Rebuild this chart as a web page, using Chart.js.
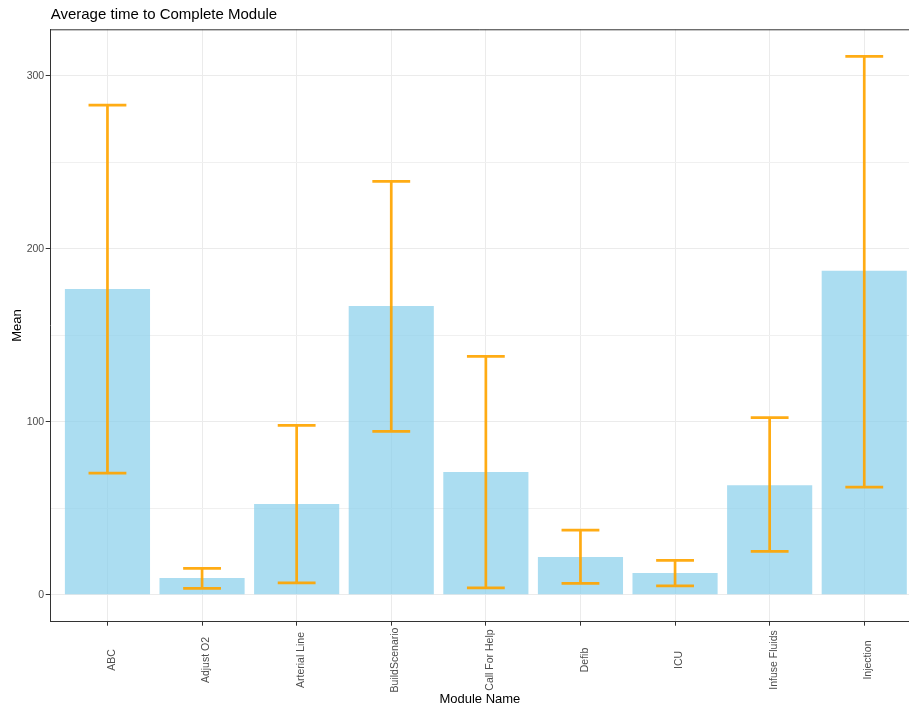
<!DOCTYPE html>
<html>
<head>
<meta charset="utf-8">
<script src="https://cdn.jsdelivr.net/npm/chart.js@4/dist/chart.umd.min.js"></script>
<style>
  html, body { margin: 0; padding: 0; background: #fff; }
  #wrap { width: 909px; height: 708px; }
</style>
</head>
<body>
<div id="wrap"><canvas id="chart" width="909" height="708"></canvas></div>
<script>
// module names and summary values
const modules = ['ABC', 'Adjust O2', 'Arterial Line', 'BuildScenario', 'Call For Help',
                 'Defib', 'ICU', 'Infuse Fluids', 'Injection'];
const meanTime = [176.8, 9.7, 52.5, 167.0, 71.0, 21.8, 12.6, 63.4, 187.4];
const upperTime = [283.2, 15.3, 98.0, 239.1, 137.9, 37.4, 19.9, 102.4, 311.4];
const lowerTime = [70.4, 3.7, 6.9, 94.5, 4.0, 6.6, 5.2, 25.1, 62.3];
const yTicks = [0, 100, 200, 300];

Chart.defaults.font.family = "'Liberation Sans', Arial, sans-serif";

// draws the orange error bars using the chart scales
const errorBars = {
    id: 'errorBars',
    afterDatasetsDraw(chart) {
        const x = chart.scales.x;
        const y = chart.scales.y;
        const half = (x.getPixelForValue(1) - x.getPixelForValue(0)) * 0.2;
        const ctx = chart.ctx;
        ctx.save();
        ctx.strokeStyle = 'rgba(255,165,0,0.92)';
        ctx.lineWidth = 2.7;
        for (let i = 0; i < modules.length; i++) {
            const px = x.getPixelForValue(i);
            const top = y.getPixelForValue(upperTime[i]);
            const bot = y.getPixelForValue(lowerTime[i]);
            ctx.beginPath();
            ctx.moveTo(px, top); ctx.lineTo(px, bot);
            ctx.moveTo(px - half, top); ctx.lineTo(px + half, top);
            ctx.moveTo(px - half, bot); ctx.lineTo(px + half, bot);
            ctx.stroke();
        }
        ctx.restore();
    },
    afterDraw(chart) {
        const ctx = chart.ctx;
        const area = chart.chartArea;
        const x = chart.scales.x;
        ctx.save();
        // panel border (top line; left/bottom come from the axes)
        ctx.strokeStyle = '#333333';
        ctx.lineWidth = 1;
        ctx.beginPath();
        ctx.moveTo(area.left, area.top + 0.5);
        ctx.lineTo(area.right, area.top + 0.5);
        ctx.stroke();

        // rotated module labels, centred like ggplot does it
        ctx.fillStyle = '#4D4D4D';
        ctx.font = "10.5px 'Liberation Sans', Arial, sans-serif";
        ctx.textAlign = 'center';
        ctx.textBaseline = 'top';
        modules.forEach((m, i) => {
            ctx.save();
            ctx.translate(x.getPixelForValue(i) - 1, 660);
            ctx.rotate(-Math.PI / 2);
            ctx.fillText(m, 0, 0);
            ctx.restore();
        });

        // plot title
        ctx.fillStyle = '#000000';
        ctx.font = "15px 'Liberation Sans', Arial, sans-serif";
        ctx.textAlign = 'left';
        ctx.textBaseline = 'alphabetic';
        ctx.fillText('Average time to Complete Module', area.left, 18.5);
        ctx.restore();
    }
};

new Chart(document.getElementById('chart').getContext('2d'), {
    type: 'bar',
    data: {
        datasets: [{
            label: 'Mean',
            data: meanTime.map((v, i) => ({ x: i, y: v })),
            backgroundColor: 'rgba(135,206,235,0.7)',
            borderWidth: 0,
            barPercentage: 0.9,
            categoryPercentage: 1.0
        }]
    },
    options: {
        responsive: false,
        animation: false,
        devicePixelRatio: 1,
        layout: { padding: { left: 0, top: 29.3, right: 0, bottom: 0 } },
        plugins: {
            legend: { display: false },
            tooltip: { enabled: false }
        },
        scales: {
            x: {
                type: 'linear',
                // the original panel runs past the right edge of the image
                min: -0.6,
                max: 8.473,
                offset: false,
                afterFit(scale) { scale.height = 86.3; },
                ticks: { stepSize: 1, includeBounds: false, display: false },
                grid: { offset: false, color: '#EBEBEB', lineWidth: 1, tickLength: 4, tickColor: '#333333' },
                border: { display: true, color: '#333333', width: 1 },
                title: {
                    display: true,
                    text: 'Module Name',
                    color: '#000000',
                    font: { size: 13 },
                    padding: { top: 0, bottom: 1 }
                }
            },
            y: {
                min: -15.57,
                max: 327.0,
                afterFit(scale) { scale.width = 50.7; },
                ticks: {
                    stepSize: 50,
                    includeBounds: false,
                    color: '#4D4D4D',
                    font: { size: 10.5 },
                    padding: 1.5,
                    callback: v => yTicks.includes(v) ? String(v) : ''
                },
                grid: {
                    color: ctx => yTicks.includes(ctx.tick && ctx.tick.value) ? '#EBEBEB' : '#F0F0F0',
                    lineWidth: 1,
                    tickLength: 5,
                    tickColor: ctx => yTicks.includes(ctx.tick && ctx.tick.value) ? '#333333' : 'rgba(0,0,0,0)'
                },
                border: { display: true, color: '#333333', width: 1 },
                title: {
                    display: true,
                    text: 'Mean',
                    color: '#000000',
                    font: { size: 13 },
                    padding: { top: 10, bottom: 0 }
                }
            }
        }
    },
    plugins: [errorBars]
});
</script>
</body>
</html>
